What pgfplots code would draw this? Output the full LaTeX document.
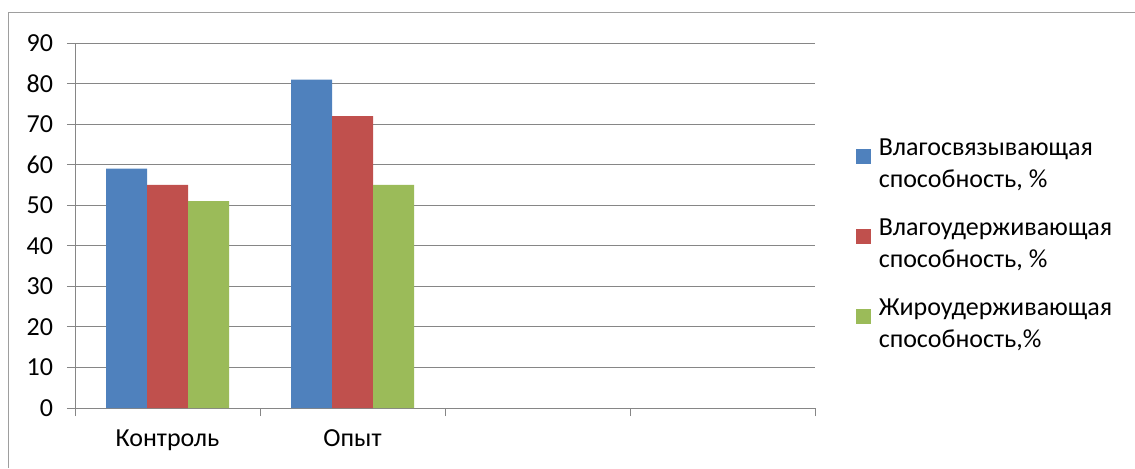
\documentclass[border=0pt]{standalone}
\usepackage{fontspec}
\setmainfont{Carlito}
\usepackage{pgfplots}
\pgfplotsset{compat=1.18}
\definecolor{sblue}{HTML}{4F81BD}
\definecolor{sred}{HTML}{C0504D}
\definecolor{sgreen}{HTML}{9BBB59}
\definecolor{gridgray}{HTML}{868686}
\begin{document}
\begin{tikzpicture}
\path[use as bounding box] (0pt,0pt) rectangle (851.25pt,351pt);
\draw[gridgray!80, line width=0.75pt] (6.4pt,0pt) -- (6.4pt,341.6pt) -- (851.25pt,341.6pt);
\begin{axis}[
  at={(56.25pt,45pt)}, anchor=south west, scale only axis,
  width=555pt, height=273.75pt,
  ymin=0, ymax=90, ytick={0,10,...,90},
  xmin=-0.5, xmax=3.5,
  xtick={-0.5,0.5,1.5,2.5,3.5}, xticklabels={},
  extra x ticks={0,1}, extra x tick labels={Контроль,Опыт},
  extra x tick style={major tick length=0pt, grid=none},
  ybar=0pt, bar width=30.75pt,
  axis lines*=left,
  axis line style={gridgray, line width=0.75pt, -},
  ymajorgrids, grid style={gridgray, line width=0.75pt},
  tick align=outside, major tick length=6pt,
  tick style={gridgray, line width=0.75pt},
  /pgf/number format/assume math mode=true,
  ticklabel style={font=\fontsize{19.5}{23}\selectfont, text=black},
  yticklabel style={xshift=-7pt},
  xticklabel style={yshift=-13pt},
  legend cell align=left,
  legend style={at={(axis description cs:1.0556,0.745)}, anchor=north west, draw=none,
    font=\fontsize{19.5}{23.5}\selectfont, nodes={align=left}, row sep=18.5pt, inner sep=0pt,
    /tikz/every odd column/.append style={column sep=3.75pt}},
  legend image code/.code={\path[fill=none, draw=none] (0pt,0pt) rectangle (11pt,18.5pt);
    \fill[#1] (0pt,0pt) rectangle (11pt,11pt);},
]
\addplot[fill=sblue, draw=none] coordinates {(0,59) (1,81)};
\addlegendentry{Влагосвязывающая\\способность, \%}
\addplot[fill=sred, draw=none] coordinates {(0,55) (1,72)};
\addlegendentry{Влагоудерживающая\\способность, \%}
\addplot[fill=sgreen, draw=none] coordinates {(0,51) (1,55)};
\addlegendentry{Жироудерживающая\\способность,\%}
\end{axis}
\end{tikzpicture}
\end{document}
